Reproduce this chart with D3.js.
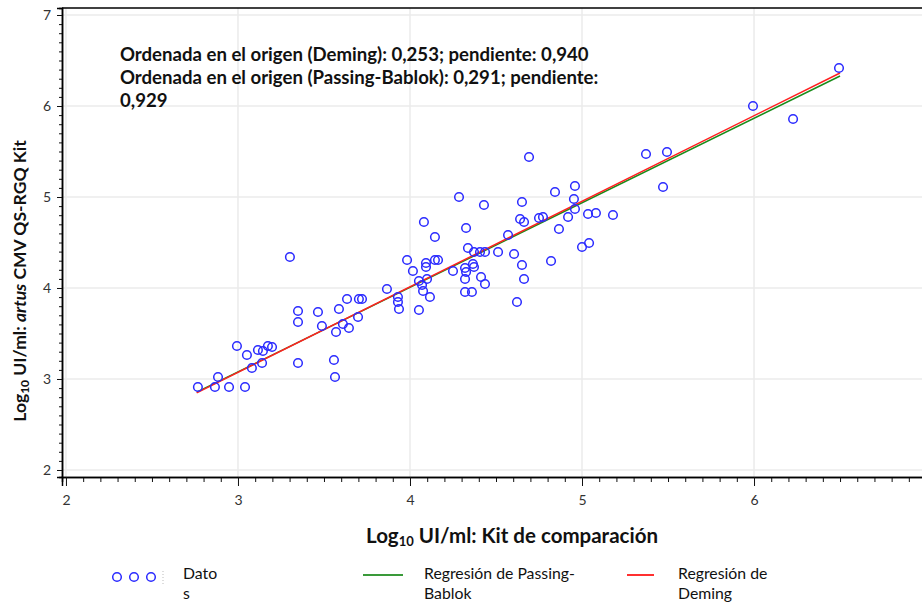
<!DOCTYPE html>
<html>
<head>
<meta charset="utf-8">
<script src="https://cdn.jsdelivr.net/npm/d3@7"></script>
<style>
  body { margin: 0; background: #fff; }
  text { font-family: Lato, sans-serif; }
</style>
</head>
<body>
<script>
// Log10 values
var compLog = [2.767, 2.866, 2.884, 2.948, 3.041, 2.994, 3.052, 3.081, 3.140, 3.116,
  3.145, 3.174, 3.198, 3.349, 3.349, 3.349, 3.465, 3.488, 3.302, 3.558,
  3.564, 3.570, 3.587, 3.610, 3.645, 3.634, 3.698, 3.703, 3.721, 3.866,
  3.930, 3.930, 3.936, 4.052, 4.116, 4.076, 4.070, 4.052, 4.099, 4.017,
  3.983, 4.093, 4.093, 4.145, 4.163, 4.081, 4.145, 4.250, 4.320, 4.326,
  4.320, 4.320, 4.360, 4.366, 4.372, 4.413, 4.436, 4.337, 4.326, 4.372,
  4.407, 4.436, 4.512, 4.430, 4.285, 4.570, 4.605, 4.651, 4.663, 4.622,
  4.640, 4.663, 4.651, 4.692, 4.843, 4.959, 4.953, 4.959, 4.919, 5.035,
  5.081, 5.180, 4.866, 4.750, 4.773, 4.820, 5.000, 5.041, 5.372, 5.494,
  5.471, 5.994, 6.227, 6.494];
var artusLog = [2.912, 2.912, 3.022, 2.912, 2.912, 3.363, 3.264, 3.121, 3.176, 3.319,
  3.308, 3.363, 3.352, 3.176, 3.747, 3.626, 3.736, 3.582, 4.341, 3.209,
  3.022, 3.516, 3.769, 3.604, 3.560, 3.879, 3.681, 3.879, 3.879, 3.989,
  3.901, 3.846, 3.769, 3.758, 3.901, 3.967, 4.033, 4.077, 4.099, 4.187,
  4.308, 4.275, 4.231, 4.308, 4.308, 4.725, 4.560, 4.187, 4.220, 4.176,
  4.099, 3.956, 3.956, 4.264, 4.231, 4.121, 4.044, 4.440, 4.659, 4.396,
  4.396, 4.396, 4.396, 4.912, 5.000, 4.582, 4.374, 4.253, 4.099, 3.846,
  4.758, 4.725, 4.945, 5.440, 5.055, 5.121, 4.978, 4.868, 4.780, 4.813,
  4.824, 4.802, 4.648, 4.769, 4.780, 4.297, 4.451, 4.495, 5.473, 5.495,
  5.110, 6.000, 5.857, 6.418];

// regression coefficients [intercept, slope] and the x span of the fitted lines
var demingCoef = [0.253, 0.940];
var pbCoef = [0.291, 0.929];
var fitRange = [2.76, 6.5];

var xTicks = [2, 3, 4, 5, 6];
var yTicks = [2, 3, 4, 5, 6, 7];

var data = compLog.map(function(d, i) { return {x: d, y: artusLog[i]}; });

var svg = d3.select("body").append("svg")
    .attr("width", 922)
    .attr("height", 602);

// plot frame (window.top is read-only, so no plain "top" here)
var frame = {left: 62, right: 930, top: 8, bottom: 477};

var x = d3.scaleLinear().domain([1.977, 7.023]).range([frame.left, frame.right]);
var y = d3.scaleLinear().domain([1.923, 7.077]).range([frame.bottom, frame.top]);

// grid
svg.append("g").selectAll("line")
    .data(xTicks)
    .enter().append("line")
    .attr("x1", function(d) { return x(d); })
    .attr("x2", function(d) { return x(d); })
    .attr("y1", frame.top)
    .attr("y2", frame.bottom)
    .style("stroke", "#ebebeb")
    .style("stroke-width", 1.5);

svg.append("g").selectAll("line")
    .data(yTicks)
    .enter().append("line")
    .attr("x1", frame.left)
    .attr("x2", 922)
    .attr("y1", function(d) { return y(d); })
    .attr("y2", function(d) { return y(d); })
    .style("stroke", "#ebebeb")
    .style("stroke-width", 1.5);

// minor tick positions every 0.1
var xMinor = d3.range(20, 71).map(function(d) { return d / 10; })
    .filter(function(d) { return xTicks.indexOf(d) < 0; });
var yMinor = d3.range(20, 71).map(function(d) { return d / 10; })
    .filter(function(d) { return yTicks.indexOf(d) < 0; });

// x axis
var gx = svg.append("g").attr("transform", "translate(0," + frame.bottom + ")");
gx.append("g").call(d3.axisBottom(x).tickValues(xMinor).tickSize(5).tickFormat(""));
gx.append("g").call(d3.axisBottom(x).tickValues(xTicks).tickSize(9).tickPadding(9)
    .tickFormat(d3.format("d")));

// y axis
var gy = svg.append("g").attr("transform", "translate(" + frame.left + ",0)");
gy.append("g").call(d3.axisLeft(y).tickValues(yMinor).tickSize(3).tickFormat(""));
gy.append("g").call(d3.axisLeft(y).tickValues(yTicks).tickSize(5).tickPadding(6)
    .tickFormat(d3.format("d")));

svg.selectAll(".domain").attr("stroke", "#000").attr("stroke-width", 1.5);
svg.selectAll(".tick line").attr("stroke", "#111");
svg.selectAll(".tick text")
    .style("font-family", "Lato, sans-serif")
    .style("font-size", "14px")
    .attr("fill", "#333");

// top border of the frame
svg.append("line")
    .attr("x1", frame.left).attr("x2", 922)
    .attr("y1", frame.top).attr("y2", frame.top)
    .style("stroke", "#000")
    .style("stroke-width", 1.5);

// regression lines
var fitLine = function(coef) {
    return d3.line()
        .x(function(d) { return x(d); })
        .y(function(d) { return y(coef[0] + coef[1] * d); })(fitRange);
};

svg.append("path")
    .attr("d", fitLine(pbCoef))
    .style("fill", "none")
    .style("stroke", "#1a8c1a")
    .style("stroke-width", 1.5);

svg.append("path")
    .attr("d", fitLine(demingCoef))
    .style("fill", "none")
    .style("stroke", "#ff2020")
    .style("stroke-width", 1.5);

// points
svg.selectAll("dot")
    .data(data)
    .enter().append("circle")
    .attr("cx", function(d) { return x(d.x); })
    .attr("cy", function(d) { return y(d.y); })
    .attr("r", 4.3)
    .style("fill", "none")
    .style("stroke", "#2a2aff")
    .style("stroke-width", 1.5);

// annotation
var note = ["Ordenada en el origen (Deming): 0,253; pendiente: 0,940",
            "Ordenada en el origen (Passing-Bablok): 0,291; pendiente:",
            "0,929"];
svg.selectAll("note")
    .data(note)
    .enter().append("text")
    .attr("x", 120)
    .attr("y", function(d, i) { return 61 + i * 23; })
    .style("font-size", "18.6px")
    .style("font-weight", "bold")
    .attr("fill", "#111")
    .text(function(d) { return d; });

// x axis title
var xt = svg.append("text")
    .attr("x", 512)
    .attr("y", 543)
    .attr("text-anchor", "middle")
    .style("font-size", "20.5px")
    .style("font-weight", "bold")
    .attr("fill", "#111");
xt.append("tspan").text("Log");
xt.append("tspan").attr("dy", 3).style("font-size", "13px").text("10");
xt.append("tspan").attr("dy", -3).text(" UI/ml: Kit de comparación");

// y axis title
var yt = svg.append("text")
    .attr("transform", "translate(26,281) rotate(-90)")
    .attr("text-anchor", "middle")
    .style("font-size", "17.5px")
    .style("font-weight", "bold")
    .attr("fill", "#111");
yt.append("tspan").text("Log");
yt.append("tspan").attr("dy", 3).style("font-size", "12px").text("10");
yt.append("tspan").attr("dy", -3).text(" UI/ml: ");
yt.append("tspan").style("font-style", "italic").text("artus");
yt.append("tspan").text(" CMV QS-RGQ Kit");

// legend
var legY = 577;
svg.selectAll("legdot")
    .data([117, 134, 151])
    .enter().append("circle")
    .attr("cx", function(d) { return d; })
    .attr("cy", legY)
    .attr("r", 4.3)
    .style("fill", "none")
    .style("stroke", "#2a2aff")
    .style("stroke-width", 1.5);

svg.append("line")
    .attr("x1", 163).attr("x2", 163)
    .attr("y1", 571).attr("y2", 585)
    .style("stroke", "#bbb")
    .style("stroke-dasharray", "1,2");

var legText = [
    {x: 183, lines: ["Dato", "s"]},
    {x: 424, lines: ["Regresión de Passing-", "Bablok"]},
    {x: 678, lines: ["Regresión de", "Deming"]}
];
legText.forEach(function(d) {
    svg.selectAll(null)
        .data(d.lines)
        .enter().append("text")
        .attr("x", d.x)
        .attr("y", function(t, i) { return 579 + i * 20; })
        .style("font-size", "15.8px")
        .attr("fill", "#111")
        .text(function(t) { return t; });
});

svg.append("line")
    .attr("x1", 363).attr("x2", 403)
    .attr("y1", 575).attr("y2", 575)
    .style("stroke", "#3a9a3a")
    .style("stroke-width", 2);

svg.append("line")
    .attr("x1", 627).attr("x2", 654)
    .attr("y1", 575).attr("y2", 575)
    .style("stroke", "#ff3030")
    .style("stroke-width", 2);
</script>
</body>
</html>
